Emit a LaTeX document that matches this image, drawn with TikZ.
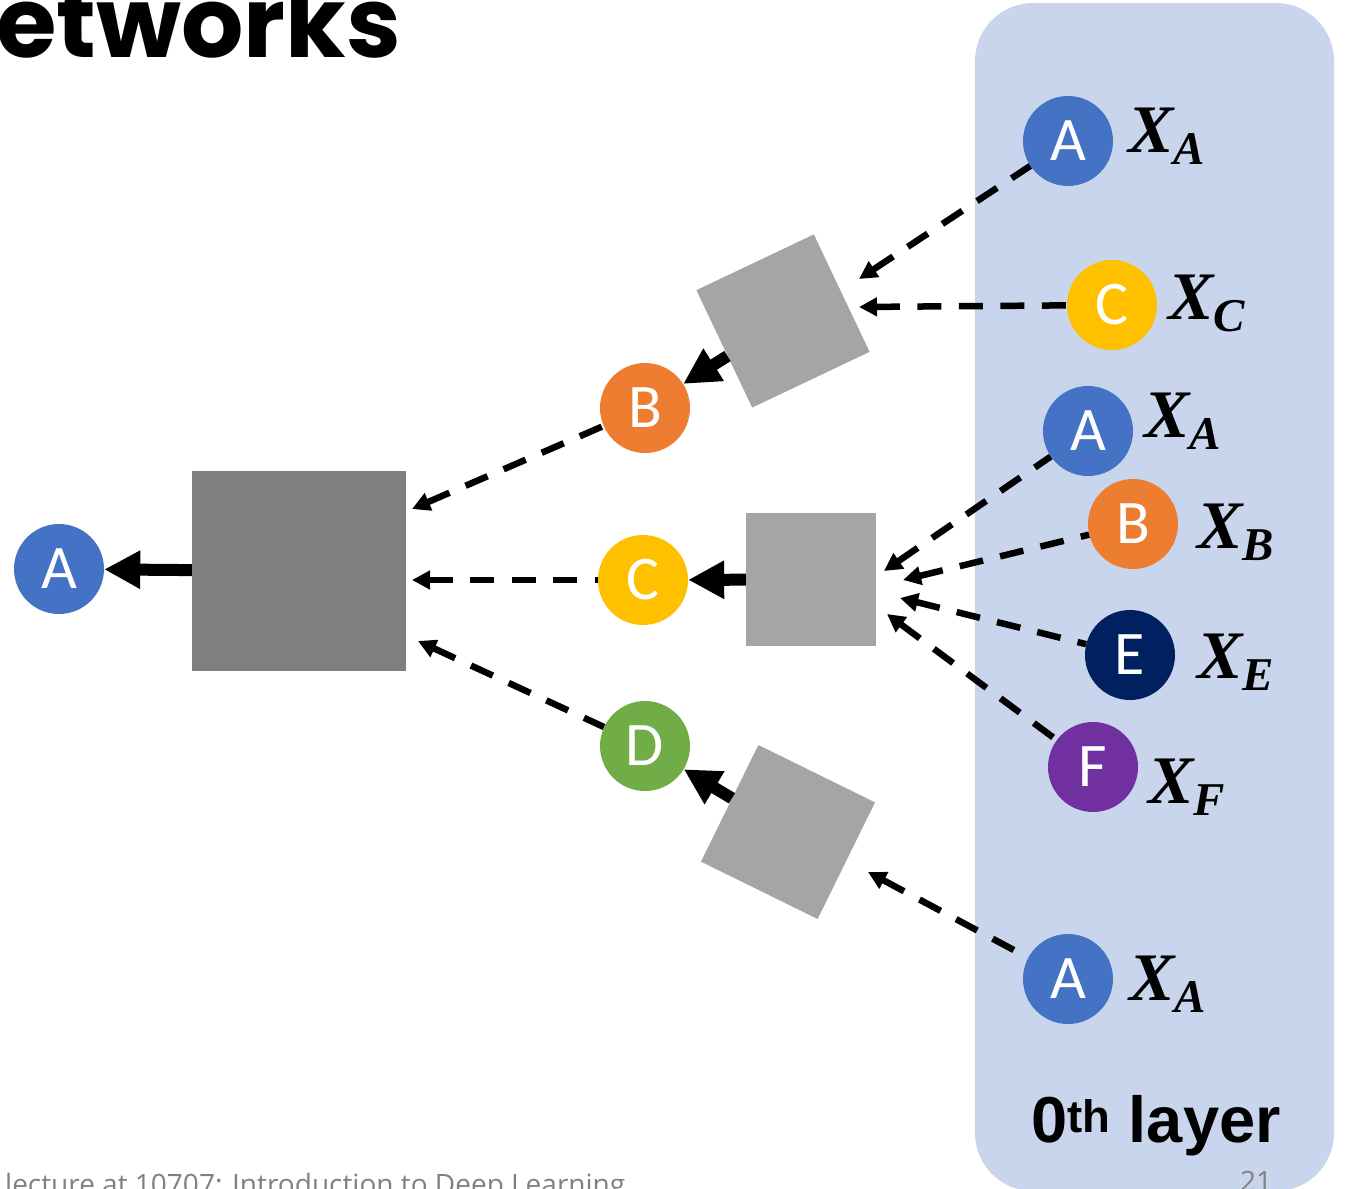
\documentclass[tikz,border=0pt]{standalone}
\usepackage{fontspec}
\usetikzlibrary{arrows.meta}
\setmainfont{Carlito}
\newfontfamily\titlefont{Poppins}
\newfontfamily\arialfont{Liberation Sans}
\newfontfamily\footfont{Open Sans}
\newfontfamily\xfont{Liberation Serif}
\newcommand{\varlab}[1]{{\xfont\bfseries\itshape\fontsize{68}{68}\selectfont X\raisebox{-12pt}{\fontsize{47}{47}\selectfont #1}}}
\definecolor{panel}{RGB}{201,213,236}
\definecolor{cblue}{RGB}{68,114,196}
\definecolor{cyellow}{RGB}{255,192,0}
\definecolor{corange}{RGB}{237,125,49}
\definecolor{cnavy}{RGB}{0,32,96}
\definecolor{cpurple}{RGB}{112,48,160}
\definecolor{cgreen}{RGB}{112,173,71}
\definecolor{dkgray}{RGB}{127,127,127}
\definecolor{ltgray}{RGB}{165,165,165}
\definecolor{foot}{RGB}{128,128,128}
\tikzset{
  cir/.style={circle, minimum size=90pt, inner sep=0pt, text=white, font=\fontsize{62}{62}\selectfont},
  sqbox/.style={rectangle, fill=ltgray, inner sep=0pt, minimum size=130pt},
  thk/.style={line width=12pt, -{Triangle[length=36pt,width=36pt]}},
  dsh/.style={line width=6.5pt, dash pattern=on 24pt off 17.5pt, {Triangle[length=18pt,width=18pt]}-},
  xlab/.style={anchor=base west, inner sep=0pt}
}
\begin{document}
\begin{tikzpicture}[x=1pt,y=-1pt]
\useasboundingbox (0,0) rectangle (1350,1189);
% panel
\fill[panel, rounded corners=58pt] (975,3) rectangle (1334,1191);
% title and footer
\node[anchor=base west, inner sep=0pt, font=\titlefont\bfseries\fontsize{98}{98}\selectfont] (title) at (-4,57) {etworks};
\node[anchor=base west, inner sep=0pt, text=foot, font=\footfont\fontsize{28}{28}\selectfont] (footer) at (5,1194) {lecture at 10707: Introduction to Deep Learning};
\node[anchor=base west, inner sep=0pt, text=foot, font=\footfont\fontsize{28}{28}\selectfont] (pnum) at (1240,1191) {21};
\node[anchor=base west, inner sep=0pt, font=\arialfont\bfseries\fontsize{65}{65}\selectfont] (layer) at (1031,1142) {0\textsuperscript{th} layer};
% squares
\node[rectangle, fill=dkgray, inner sep=0pt, minimum width=214pt, minimum height=200pt] (big) at (299,571) {};
\node[sqbox, minimum width=130pt, minimum height=133pt] (m2) at (811,579.5) {};
\node[sqbox, rotate=25.4] (m1) at (783,321) {};
\node[sqbox, rotate=-26.2] (m3) at (788,832) {};
% circles
\node[cir, fill=cblue] (a0) at (59,569) {A};
\node[cir, fill=corange] (b1) at (645,408) {B};
\node[cir, fill=cyellow] (c1) at (643,580) {C};
\node[cir, fill=cgreen] (d1) at (645,746) {D};
\node[cir, fill=cblue] (ra1) at (1068,141) {A};
\node[cir, fill=cyellow] (rc) at (1112,305) {C};
\node[cir, fill=cblue] (ra2) at (1088,431) {A};
\node[cir, fill=corange] (rb) at (1133,524) {B};
\node[cir, fill=cnavy] (re) at (1130,655) {E};
\node[cir, fill=cpurple] (rf) at (1093,767) {F};
\node[cir, fill=cblue] (ra3) at (1068,979) {A};
% labels
\node[xlab] (lxa1) at (1128,152) {\varlab{A}};
\node[xlab] (lxc) at (1168,319) {\varlab{C}};
\node[xlab] (lxa2) at (1144,437) {\varlab{A}};
\node[xlab] (lxb) at (1197,548) {\varlab{B}};
\node[xlab] (lxe) at (1197,678) {\varlab{E}};
\node[xlab] (lxf) at (1148,803) {\varlab{F}};
\node[xlab] (lxa3) at (1129,1000) {\varlab{A}};
% arrow tip points
\coordinate (ta1) at (859,279);
\coordinate (tc1) at (859,307);
\coordinate (ta2) at (884,571);
\coordinate (tb2) at (903,580);
\coordinate (te2) at (900,598);
\coordinate (tf2) at (887,614);
\coordinate (ta3) at (868,872);
\coordinate (tb) at (412,509);
\coordinate (tc) at (412,580);
\coordinate (td) at (418,641);
% thick arrows
\draw[thk] (m1) -- (b1);
\draw[thk] (m2) -- (c1);
\draw[thk] (m3) -- (d1);
\draw[thk] (big) -- (a0);
% dashed arrows
\draw[dsh] (ta1) -- (ra1);
\draw[dsh] (tc1) -- (rc);
\draw[dsh] (ta2) -- (ra2);
\draw[dsh] (tb2) -- (rb);
\draw[dsh] (te2) -- (re);
\draw[dsh] (tf2) -- (rf);
\draw[dsh] (ta3) -- (ra3);
\draw[dsh] (tb) -- (b1);
\draw[dsh] (tc) -- (c1);
\draw[dsh] (td) -- (d1);
\end{tikzpicture}
\end{document}
